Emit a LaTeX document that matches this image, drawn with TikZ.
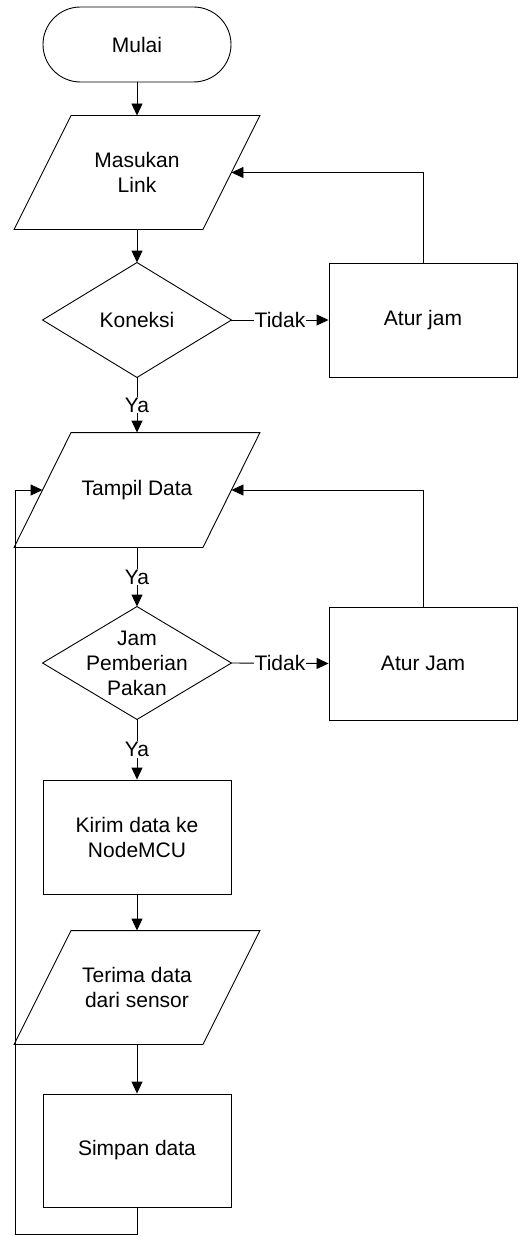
\documentclass[tikz,border=0pt]{standalone}
\usepackage{fontspec}
\setmainfont{Liberation Sans}
\usetikzlibrary{arrows.meta}
\begin{document}
\begin{tikzpicture}[x=1pt,y=-1pt,line width=0.9pt,
  every node/.style={font=\fontsize{21}{25}\selectfont},
  box/.style={draw, rectangle, minimum width=188pt, minimum height=114pt, align=center, inner sep=0pt},
  holder/.style={rectangle, minimum width=188pt, minimum height=114pt, align=center, inner sep=0pt},
  term/.style={draw, rectangle, rounded corners=37.5pt, minimum width=188pt, minimum height=75pt, inner sep=0pt},
  arr/.style={-{Triangle[length=12pt,width=11pt]}},
  lbl/.style={fill=white, inner sep=1pt}]
\useasboundingbox (0,0) rectangle (520,1236);

\node[term] (mulai) at (137,44.5) {Mulai};
\node[holder, minimum height=113pt] (masuk) at (137,172.5) {Masukan\\Link};
\node[holder] (kon) at (137,320) {Koneksi};
\node[box] (atur1) at (423,320) {Atur jam};
\node[holder] (tampil) at (137,490) {Tampil Data};
\node[holder, minimum height=112pt] (jam) at (137,663) {Jam\\Pemberian\\Pakan};
\node[box, minimum height=113pt] (atur2) at (423,663.5) {Atur Jam};
\node[box] (kirim) at (137,837) {Kirim data ke\\NodeMCU};
\node[holder, minimum height=113pt] (terima) at (137,987.5) {Terima data\\dari sensor};
\node[box, minimum height=113pt] (simpan) at (137,1150.5) {Simpan data};
\coordinate (lb) at (15,1234);

% diamonds
\foreach \d in {kon,jam}{
  \draw (\d.north) -- (\d.east) -- (\d.south) -- (\d.west) -- cycle;
}
% parallelograms
\foreach \p in {masuk,tampil,terima}{
  \draw ([xshift=28.5pt]\p.north west) -- ([xshift=28.5pt]\p.north east)
     -- ([xshift=-28.5pt]\p.south east) -- ([xshift=-28.5pt]\p.south west) -- cycle;
}

\draw[arr] (mulai) -- (masuk);
\draw[arr] (masuk) -- (kon);
\draw[arr] (kon.east) -- node[lbl] {Tidak} (atur1.west);
\draw[arr] (atur1.north) |- (masuk.east);
\draw[arr] (kon.south) -- node[lbl] {Ya} (tampil.north);
\draw[arr] (tampil.south) -- node[lbl] {Ya} (jam.north);
\draw[arr] (jam.east) -- node[lbl] {Tidak} (atur2.west);
\draw[arr] (atur2.north) |- (tampil.east);
\draw[arr] (jam.south) -- node[lbl] {Ya} (kirim.north);
\draw[arr] (kirim) -- (terima);
\draw[arr] (terima) -- (simpan);
\draw[arr] (simpan.south) |- (lb) |- (tampil.west);
\end{tikzpicture}
\end{document}
